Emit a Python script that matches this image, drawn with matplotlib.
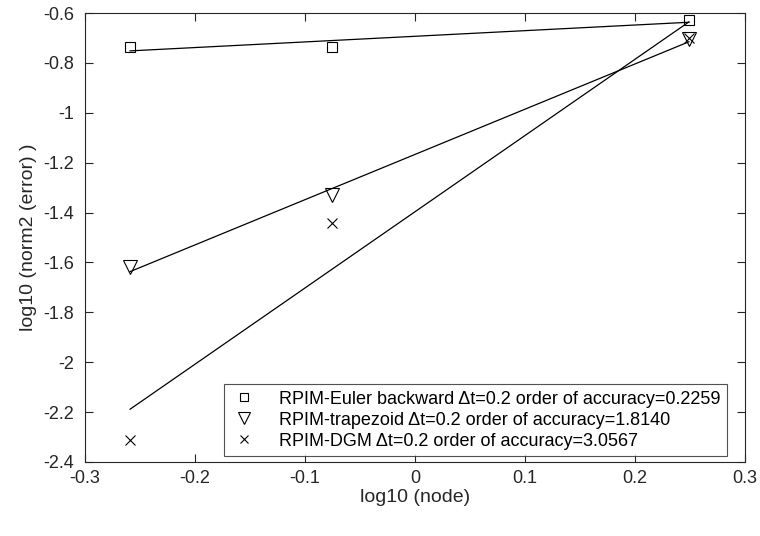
import numpy as np
import matplotlib
matplotlib.use('Agg')
import matplotlib.pyplot as plt

plt.rcParams['font.family'] = ['Liberation Sans', 'DejaVu Sans']

# log10 of node counts
log_node = [-0.259, -0.075, 0.249]

# log10 of the L2 error norm per scheme
err_euler = [-0.735, -0.737, -0.627]
err_trap = [-1.62, -1.33, -0.705]
err_dgm = [-2.31, -1.44, -0.70]

# fitted orders of accuracy (slopes)
orders = [0.2259, 1.8140, 3.0567]
labels = ['RPIM-Euler backward \u0394t=0.2 order of accuracy=0.2259',
          'RPIM-trapezoid \u0394t=0.2 order of accuracy=1.8140',
          'RPIM-DGM \u0394t=0.2 order of accuracy=3.0567']

x_ticks = [-0.3, -0.2, -0.1, 0, 0.1, 0.2, 0.3]
y_ticks = [-2.4, -2.2, -2, -1.8, -1.6, -1.4, -1.2, -1, -0.8, -0.6]


def fmt(v):
    s = ('%.1f' % v).rstrip('0').rstrip('.')
    return '0' if s in ('-0', '0') else s


fig = plt.figure(figsize=(7.6, 5.36), dpi=100)
ax = fig.add_axes([0.1118, 0.1381, 0.8685, 0.8376])

markers = [('s', 7.5), ('v', 10), ('x', 7)]
series = [err_euler, err_trap, err_dgm]
x = np.array(log_node)

for y, p, (m, ms), lab in zip(series, orders, markers, labels):
    y = np.array(y)
    ax.plot(x, y, linestyle='none', marker=m, markersize=ms,
            markerfacecolor='none', markeredgecolor='black',
            markeredgewidth=0.8, label=lab)
    # least-squares line with the stated slope
    c = np.mean(y - p * x)
    ax.plot(x[[0, -1]], p * x[[0, -1]] + c, color='black', linewidth=0.9)

ax.set_xlim(-0.3, 0.3)
ax.set_ylim(-2.4, -0.6)
ax.set_xticks(x_ticks)
ax.set_xticklabels([fmt(v) for v in x_ticks])
ax.set_yticks(y_ticks)
ax.set_yticklabels([fmt(v) for v in y_ticks])
ax.tick_params(direction='in', length=6, width=0.8, top=True, right=True,
               labelsize=13, colors='#262626')
ax.tick_params(axis='x', pad=6)
ax.tick_params(axis='y', pad=8)
for s in ax.spines.values():
    s.set_linewidth(0.8)
    s.set_color('#262626')

ax.set_xlabel('log10 (node)', fontsize=14, color='#262626', labelpad=1)
ax.set_ylabel('log10 (norm2 (error) )', fontsize=14, color='#262626',
              labelpad=4)

leg = ax.legend(loc='lower right', bbox_to_anchor=(0.9727, 0.0134),
                borderaxespad=0, fancybox=False, fontsize=13,
                frameon=True, handlelength=1.5, handletextpad=1.2,
                labelspacing=0.22, borderpad=0.35, markerscale=0.85)
leg.get_frame().set_edgecolor('#262626')
leg.get_frame().set_linewidth(0.8)

fig.savefig('out.png', dpi=100)
